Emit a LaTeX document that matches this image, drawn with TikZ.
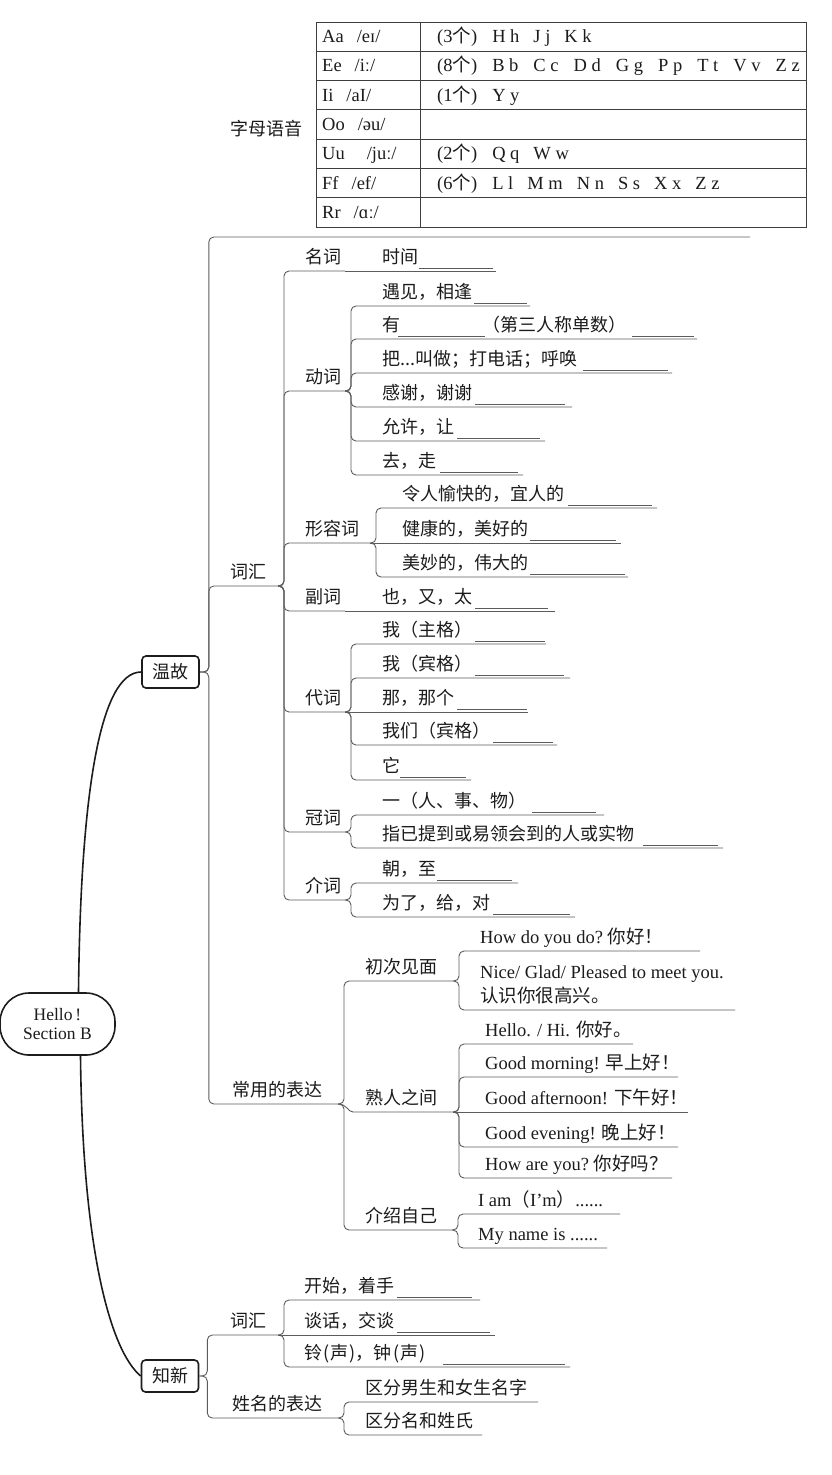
\documentclass[tikz,border=0pt]{standalone}
\usepackage{fontspec}
\setmainfont{Liberation Serif}
\newfontfamily\cjk{Noto Sans CJK SC}
\usetikzlibrary{calc}
\definecolor{ink}{HTML}{1C1C1C}
\definecolor{ln}{HTML}{5C5C5C}
\newcommand\enf{\fontsize{18.5}{24}\rmfamily}
\newcommand\zhs[1]{{\cjk #1}}
\tikzset{
  every node/.style={text=ink},
  br/.style={draw=ln, line width=0.9pt, rounded corners=5pt},
  fork/.style={to path={(\tikztostart) -- ++(#1,0) |- (\tikztotarget)}},
  fork/.default=6,
  lbl/.style={anchor=base west, inner sep=0pt, font=\fontsize{18}{22}\cjk},
  tt/.style={anchor=base west, inner sep=0pt, font=\fontsize{18.5}{22}\rmfamily},
  blankl/.style={draw=ln, line width=1.2pt},
  tabl/.style={draw=ink!85, line width=1pt},
  boxn/.style={draw=ink, line width=1.6pt, rounded corners=4pt, minimum width=57pt,
    minimum height=32pt, inner sep=0pt, font=\fontsize{18}{22}\cjk},
  rootn/.style={draw=ink, line width=1.6pt, rounded corners=29pt, minimum width=115pt,
    minimum height=62pt, inner sep=0pt, align=center, font=\fontsize{17.5}{19}\rmfamily},
  heavy/.style={draw=ink, line width=1.6pt},
}
\newcommand\leaf[6]{%
  \coordinate (#1-e) at (#5,#4);
  \node[lbl] (#1) at (#3,#4-7.5) {#6};
  \draw[br,fork] (#2) to (#1-e);}
\newcommand\leafs[6]{%
  \coordinate (#1-e) at (#5,#4);
  \node[lbl] (#1) at (#3,#4-7.5) {#6};
  \draw[br] (#2) -- (#1-e);}
\newcommand\blankat[3]{\draw[blankl] (#1,#3-2.5) -- (#2,#3-2.5);}

\begin{document}
\begin{tikzpicture}[x=1pt,y=-1pt]
\useasboundingbox (0,0) rectangle (832,1475);
\fill[white] (0,0) rectangle (832,1475);

% ---------- table ----------
\node[lbl, anchor=center] (zmyy) at (266,129) {字母语音};
\draw[tabl] (316,22) rectangle (806,227);
\foreach \k in {1,...,6} \draw[tabl] (316,22+29.29*\k) -- (806,22+29.29*\k);
\draw[tabl] (420,22) -- (420,227);
\node[tt] (ta1) at (322,42.6) {Aa\hspace{13pt}/eɪ/};
\node[tt] (ta2) at (322,71.9) {Ee\hspace{13pt}/iː/};
\node[tt] (ta3) at (322,101.2) {Ii\hspace{13pt}/aI/};
\node[tt] (ta4) at (322,130.5) {Oo\hspace{13pt}/əu/};
\node[tt] (ta5) at (322,159.8) {Uu\hspace{22pt}/juː/};
\node[tt] (ta6) at (322,189.1) {Ff\hspace{13pt}/ef/};
\node[tt] (ta7) at (322,218.4) {Rr\hspace{13pt}/ɑː/};
\node[tt] (tb1) at (437,42.6) {(3\zhs{个})\hspace{15pt}H h\hspace{14pt}J j\hspace{14pt}K k};
\node[tt] (tb2) at (437,71.9) {(8\zhs{个})\hspace{15pt}B b\hspace{15pt}C c\hspace{15pt}D d\hspace{15pt}G g\hspace{15pt}P p\hspace{15pt}T t\hspace{15pt}V v\hspace{15pt}Z z};
\node[tt] (tb3) at (437,101.2) {(1\zhs{个})\hspace{15pt}Y y};
\node[tt] (tb5) at (437,159.8) {(2\zhs{个})\hspace{15pt}Q q\hspace{14pt}W w};
\node[tt] (tb6) at (437,189.1) {(6\zhs{个})\hspace{15pt}L l\hspace{14pt}M m\hspace{14pt}N n\hspace{14pt}S s\hspace{14pt}X x\hspace{14pt}Z z};

% ---------- main nodes ----------
\node[rootn] (root) at (57.5,1024) {Hello\,!\\Section B};
\node[boxn] (wg) at (170.5,672) {温故};
\node[boxn] (zx) at (170,1376) {知新};
\draw[heavy] ([xshift=21pt]root.north) .. controls +(2,-195) and +(-42,0) .. (wg.west);
\draw[heavy] ([xshift=23pt]root.south) .. controls +(2,195) and +(-30,-25) .. (zx.west);

% ---------- 温故 ----------
\coordinate (zm-e) at (750,237);
\draw[br,fork=9] (wg.east) to (zm-e);

\coordinate (ch1-e) at (278,586);
\node[lbl] (ch1) at (230,578.5) {词汇};
\draw[br,fork=9] (wg.east) to (ch1-e);

\coordinate (cy-e) at (338,1104);
\node[lbl] (cy) at (232,1096.5) {常用的表达};
\draw[br,fork=9] (wg.east) to (cy-e);

% 名词
\leaf{mc}{ch1-e}{305}{271}{345}{名词}
\leafs{sj}{mc-e}{382}{271}{496}{时间} \blankat{419}{493}{271}
% 动词
\leaf{dc}{ch1-e}{305}{391}{345}{动词}
\leaf{yj}{dc-e}{382}{306}{530}{遇见，相逢} \blankat{474}{527}{306}
\leaf{you}{dc-e}{382}{339}{697}{有\hspace{82pt}（第三人称单数）} \blankat{398}{485}{339} \blankat{632}{694}{339}
\leaf{ba}{dc-e}{382}{373}{672}{把...叫做；打电话；呼唤} \blankat{583}{668}{373}
\leaf{gx}{dc-e}{382}{407}{572}{感谢，谢谢} \blankat{475}{565}{407}
\leaf{yx}{dc-e}{382}{441}{545}{允许，让} \blankat{457}{540}{441}
\leaf{qz}{dc-e}{382}{475}{523}{去，走} \blankat{440}{518}{475}
% 形容词
\leaf{xrc}{ch1-e}{305}{543}{370}{形容词}
\leaf{lr}{xrc-e}{402}{508}{657}{令人愉快的，宜人的} \blankat{568}{652}{508}
\leafs{jk}{xrc-e}{402}{543}{621}{健康的，美好的} \blankat{530}{616}{543}
\leaf{mm}{xrc-e}{402}{577}{628}{美妙的，伟大的} \blankat{530}{625}{577}
% 副词
\leaf{fc}{ch1-e}{305}{611}{345}{副词}
\leafs{yyt}{fc-e}{382}{611}{555}{也，又，太} \blankat{475}{548}{611}
% 代词
\leaf{dai}{ch1-e}{305}{712}{345}{代词}
\leaf{wz}{dai-e}{382}{644}{546}{我（主格）} \blankat{475}{545}{644}
\leaf{wb}{dai-e}{382}{678}{570}{我（宾格）} \blankat{475}{564}{678}
\leafs{nn}{dai-e}{382}{712}{528}{那，那个} \blankat{457}{527}{712}
\leaf{wm}{dai-e}{382}{745}{557}{我们（宾格）} \blankat{493}{553}{745}
\leaf{ta}{dai-e}{382}{780}{471}{它} \blankat{400}{466}{780}
% 冠词
\leaf{gc}{ch1-e}{305}{832}{345}{冠词}
\leaf{yi}{gc-e}{382}{815}{604}{一（人、事、物）} \blankat{532}{596}{815}
\leaf{zy}{gc-e}{382}{848}{723}{指已提到或易领会到的人或实物} \blankat{643}{718}{848}
% 介词
\leaf{jc}{ch1-e}{305}{900}{345}{介词}
\leaf{cz}{jc-e}{382}{883}{518}{朝，至} \blankat{437}{512}{883}
\leaf{wl}{jc-e}{382}{917}{575}{为了，给，对} \blankat{493}{570}{917}

% 常用的表达
\leaf{cc}{cy-e}{365}{981}{453}{初次见面}
\coordinate (sr-e) at (453,1112);
\node[lbl] (sr) at (365,1104.5) {熟人之间};
\draw[br] (cy-e) .. controls +(9,0) and +(-10,0) .. ($(sr-e)+(-95,0)$) -- (sr-e);
\leaf{js}{cy-e}{365}{1230}{452}{介绍自己}

\leaf{hd}{cc-e}{480}{951}{700}{\enf How do you do?\ \zhs{你好！}}
\coordinate (nice-e) at (735,1010);
\node[lbl, align=left, font=\enf] (nice) at (480,1002) {Nice/ Glad/ Pleased to meet you.\\\zhs{认识你很高兴。}};
\draw[br,fork] (cc-e) to (nice-e);

\leaf{hh}{sr-e}{485}{1044}{633}{\enf Hello. / Hi. \zhs{你好。}}
\leaf{gm}{sr-e}{485}{1077}{678}{\enf Good morning! \zhs{早上好！}}
\leafs{ga}{sr-e}{485}{1112}{688}{\enf Good afternoon! \zhs{下午好！}}
\leaf{ge}{sr-e}{485}{1147}{678}{\enf Good evening! \zhs{晚上好！}}
\leaf{hay}{sr-e}{485}{1178}{672}{\enf How are you?\ \zhs{你好吗？}}

\leaf{iam}{js-e}{478}{1214}{620}{\enf I am\zhs{（}I’m\zhs{）}......}
\leaf{myn}{js-e}{478}{1248}{607}{\enf My name is ......}

% ---------- 知新 ----------
\coordinate (ch2-e) at (278,1335);
\node[lbl] (ch2) at (230,1327.5) {词汇};
\draw[br,fork=8] (zx.east) to (ch2-e);
\coordinate (xm-e) at (338,1418);
\node[lbl] (xm) at (232,1410.5) {姓名的表达};
\draw[br,fork=8] (zx.east) to (xm-e);

\leaf{ks}{ch2-e}{304}{1300}{480}{开始，着手} \blankat{397}{472}{1300}
\leafs{th}{ch2-e}{304}{1335}{495}{谈话，交谈} \blankat{397}{490}{1335}
\leaf{ling}{ch2-e}{304}{1367}{570}{铃\hspace{1.5pt}(\hspace{1pt}声\hspace{1pt})，钟\hspace{1.5pt}(\hspace{1pt}声\hspace{1pt})} \blankat{443}{565}{1367}

\leaf{qf1}{xm-e}{365}{1402}{538}{区分男生和女生名字}
\leaf{qf2}{xm-e}{365}{1435}{482}{区分名和姓氏}
\end{tikzpicture}
\end{document}
